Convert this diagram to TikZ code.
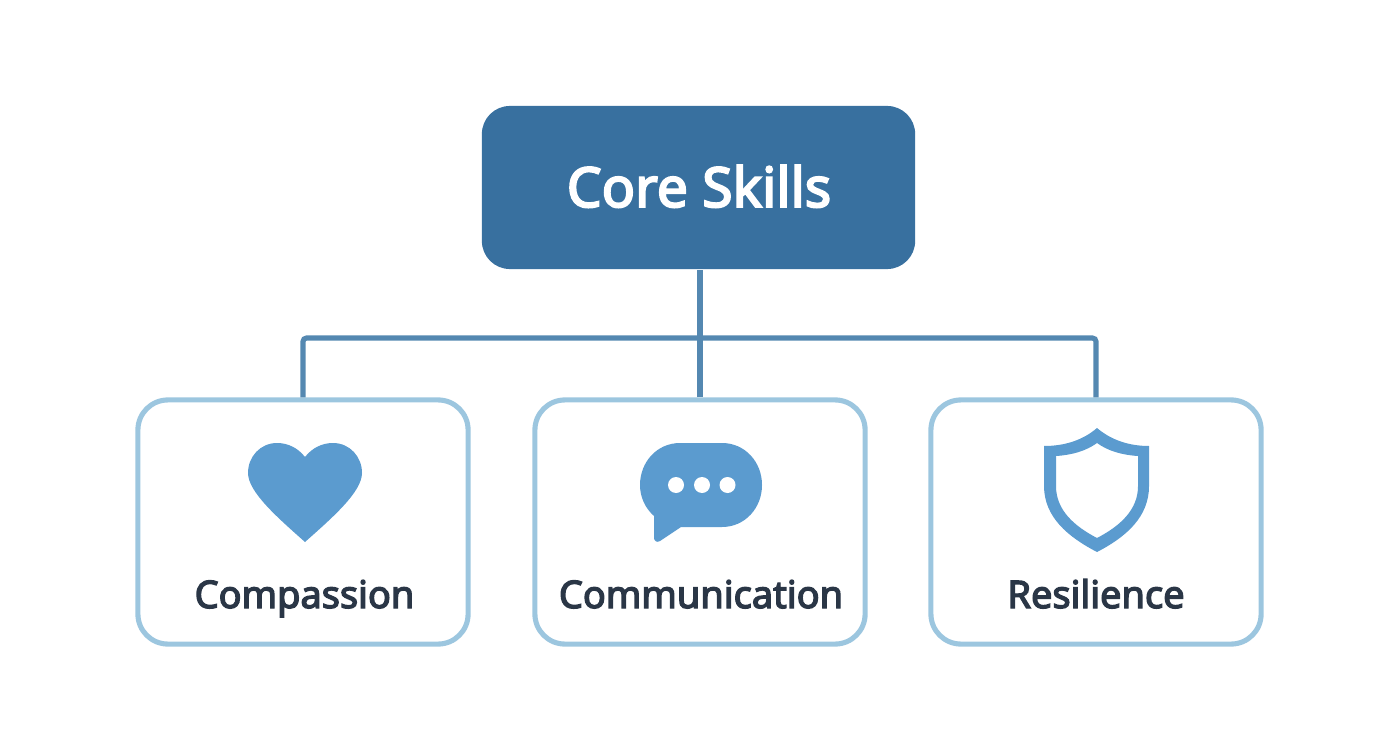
\documentclass[tikz,border=0pt]{standalone}
\usepackage{fontspec}
\setmainfont[FakeBold=3.5]{Noto Sans}
\definecolor{coreblue}{HTML}{38709F}
\definecolor{linkblue}{HTML}{5488B1}
\definecolor{boxblue}{HTML}{9CC6DF}
\definecolor{iconblue}{HTML}{5B9BCF}
\definecolor{labelink}{HTML}{2A3646}
\tikzset{
	corebox/.style={fill=coreblue, rounded corners=0.28cm, minimum width=4.33cm, minimum height=1.63cm, inner sep=0pt},
	coretext/.style={text=white, anchor=base, inner sep=0pt, font=\fontsize{15.7}{20}\selectfont},
	skillbox/.style={draw=boxblue, line width=1.45pt, rounded corners=0.3cm, minimum width=3.3cm, minimum height=2.44cm, inner sep=0pt},
	skilllabel/.style={text=labelink, anchor=base, inner sep=0pt, font=\fontsize{10.8}{14}\selectfont},
	link/.style={draw=linkblue, line width=1.45pt, rounded corners=1pt},
	icon/.style={fill=iconblue, draw=none}
}
\begin{document}
\begin{tikzpicture}[x=0.01cm, y=-0.01cm]
	\useasboundingbox (0, 0) rectangle (1392, 752);
	\node[corebox] (core) at (698.5, 187.5)		{};
	\node[coretext] (corelabel) at (699, 207)		{Core Skills};
	\node[skillbox] (comp) at (303, 522)		{};
	\node[skillbox] (comm) at (700, 522)		{};
	\node[skillbox] (resi) at (1096, 522)		{};
	\node[skilllabel] (complabel) at (304.5, 608)		{Compassion};
	\node[skilllabel] (commlabel) at (701, 608)		{Communication};
	\node[skilllabel] (resilabel) at (1096, 608)		{Resilience};
	\coordinate (bus) at (700, 338);
	
	\draw[link] (comp.north) |- (bus) -| (resi.north);
	\draw[link] (comm.north) -- (comm.north |- core.south);
	
	% heart
	\fill[icon] (305, 457) .. controls (298, 448) and (288, 443) .. (277, 443)
		.. controls (260, 443) and (248, 457) .. (248, 473)
		.. controls (248, 492) and (278, 518) .. (305, 542)
		.. controls (332, 518) and (362, 492) .. (362, 473)
		.. controls (362, 457) and (350, 443) .. (333, 443)
		.. controls (322, 443) and (312, 448) .. (305, 457) -- cycle;
	% bubble
	\fill[icon] (680, 443) -- (722, 443)
		.. controls (745, 443) and (762, 462) .. (762, 485)
		.. controls (762, 508) and (745, 527) .. (722, 527)
		-- (681, 527) -- (660, 541)
		.. controls (657, 543) and (654, 541) .. (654, 538)
		-- (654, 516)
		.. controls (645, 508) and (640, 497) .. (640, 485)
		.. controls (640, 462) and (657, 443) .. (680, 443) -- cycle;
	\foreach \dotx in {676, 702, 727.5}
		\fill[white] (\dotx, 485) circle (8);
	% shield
	\fill[icon, even odd rule] (1097, 428) .. controls (1083, 440) and (1065, 446) .. (1044, 446)
		-- (1044, 486) .. controls (1044, 517) and (1068, 537) .. (1097, 552)
		.. controls (1126, 537) and (1149, 517) .. (1149, 486)
		-- (1149, 446) .. controls (1129, 446) and (1111, 440) .. (1097, 428) -- cycle
		(1097, 443) .. controls (1086, 451) and (1072, 455) .. (1056, 456)
		-- (1056, 486) .. controls (1056, 510) and (1074, 526) .. (1097, 538)
		.. controls (1120, 526) and (1138, 510) .. (1138, 486)
		-- (1138, 456) .. controls (1122, 455) and (1108, 451) .. (1097, 443) -- cycle;
\end{tikzpicture}
\end{document}
